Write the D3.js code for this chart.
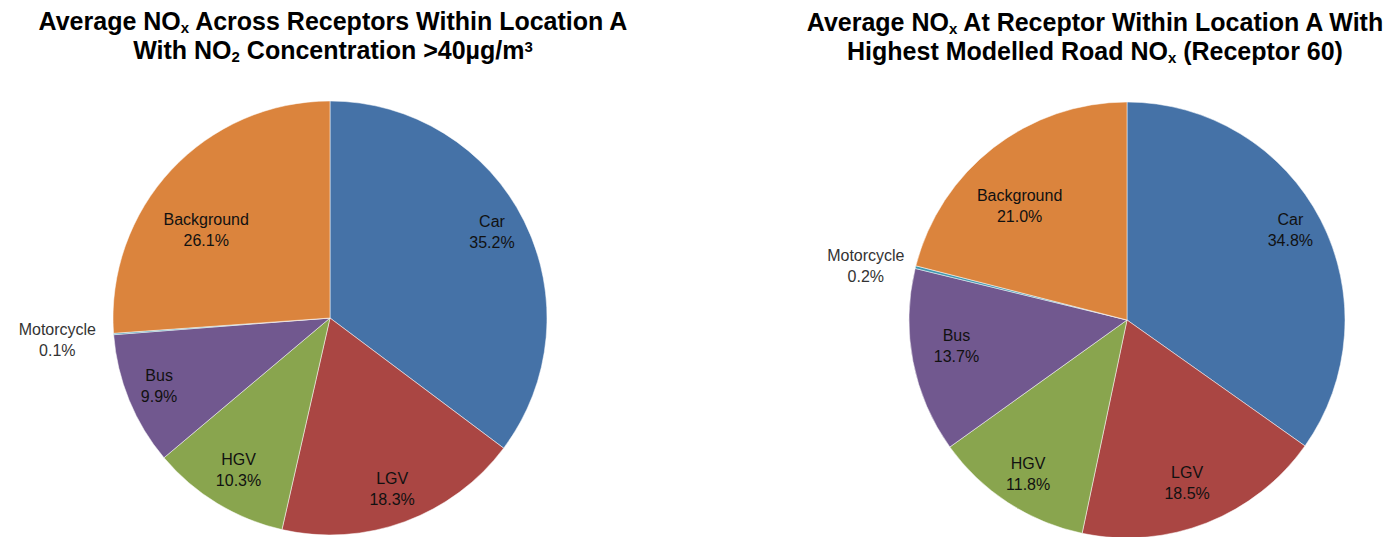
<!DOCTYPE html>
<html>
<head>
<meta charset="utf-8">
<script src="https://cdn.jsdelivr.net/npm/d3@7"></script>
<style>
  body { margin: 0; background: #fff; }
  svg { display: block; font-family: "Liberation Sans", Arial, sans-serif; }
</style>
</head>
<body>
<svg id="chart" width="1384" height="537"></svg>
<script>
// categories in drawing order (clockwise from 12 o'clock)
const categories = ['Car', 'LGV', 'HGV', 'Bus', 'Motorcycle', 'Background']
const colors = ['#4572A7', '#AA4643', '#89A54E', '#71588F', '#4198AF', '#DB843D']

// percentages
const locationAverage = [35.2, 18.3, 10.3, 9.9, 0.1, 26.1]
const receptor60 = [34.8, 18.5, 11.8, 13.7, 0.2, 21.0]

// titles: [text, sub/sup marker] pieces
const titleLeft = [
    [['Average NO', ''], ['x', 'sub'], [' Across Receptors Within Location A', '']],
    [['With NO', ''], ['2', 'sub'], [' Concentration >40\u00b5g/m', ''], ['3', 'sup']]
]
const titleRight = [
    [['Average NO', ''], ['x', 'sub'], [' At Receptor Within Location A With', '']],
    [['Highest Modelled Road NO', ''], ['x', 'sub'], [' (Receptor 60)', '']]
]

const svg = d3.select('#chart')

function drawTitle(lines, cx, y0) {
    lines.forEach((parts, i) => {
        var t = svg.append('text')
            .attr('x', cx)
            .attr('y', y0 + i * 29)
            .attr('text-anchor', 'middle')
            .style('font-size', '25px')
            .style('font-weight', 'bold')
            .attr('fill', '#000')
        var shift = 0
        parts.forEach((p) => {
            var ts = t.append('tspan').text(p[0])
            var want = p[1] == 'sub' ? 3 : (p[1] == 'sup' ? -7 : 0)
            if (want != shift) ts.attr('dy', want - shift)
            shift = want
            if (p[1]) ts.style('font-size', '15px')
        })
    })
}

// label placement: fraction of radius + angle nudge in degrees (Excel best fit)
function drawPie(values, cx, cy, radius, labelAdjust) {
    var data = categories.map((c, i) => ({ name: c, value: values[i], color: colors[i] }))
    var pie = d3.pie().sort(null).value(d => d.value)(data)
    var arc = d3.arc().innerRadius(0).outerRadius(radius)

    var g = svg.append('g').attr('transform', 'translate(' + cx + ',' + cy + ')')

    g.selectAll('path')
        .data(pie)
        .enter().append('path')
        .attr('d', arc)
        .attr('fill', d => d.data.color)
        .attr('stroke', '#fff')
        .attr('stroke-width', 0.5)

    var lbl = g.selectAll('.lbl')
        .data(pie)
        .enter().append('text')
        .attr('class', 'lbl')
        .attr('text-anchor', 'middle')
        .style('font-size', '16px')
        .attr('fill', d => d.data.name == 'Motorcycle' ? '#333' : '#111')
        .attr('transform', (d) => {
            var adj = labelAdjust[d.data.name] || [0.83, 0]
            var r = radius * adj[0]
            var a = (d.startAngle + d.endAngle) / 2 + adj[1] * Math.PI / 180
            return 'translate(' + (r * Math.sin(a)) + ',' + (-r * Math.cos(a)) + ')'
        })

    lbl.append('tspan').attr('x', 0).attr('dy', -3).text(d => d.data.name)
    lbl.append('tspan').attr('x', 0).attr('dy', 21).text(d => d.data.value.toFixed(1) + '%')
}

drawTitle(titleLeft, 333, 30)
drawTitle(titleRight, 1095, 31)

drawPie(locationAverage, 330, 318, 217, {
    Car: [0.85, -2], Bus: [0.845, 1], HGV: [0.81, 0],
    Background: [0.705, -7], Motorcycle: [1.26, 0]
})
drawPie(receptor60, 1127, 320, 218, {
    Car: [0.86, -2], Bus: [0.79, 3], LGV: [0.79, 1],
    Background: [0.725, -5], Motorcycle: [1.225, -2]
})
</script>
</body>
</html>
